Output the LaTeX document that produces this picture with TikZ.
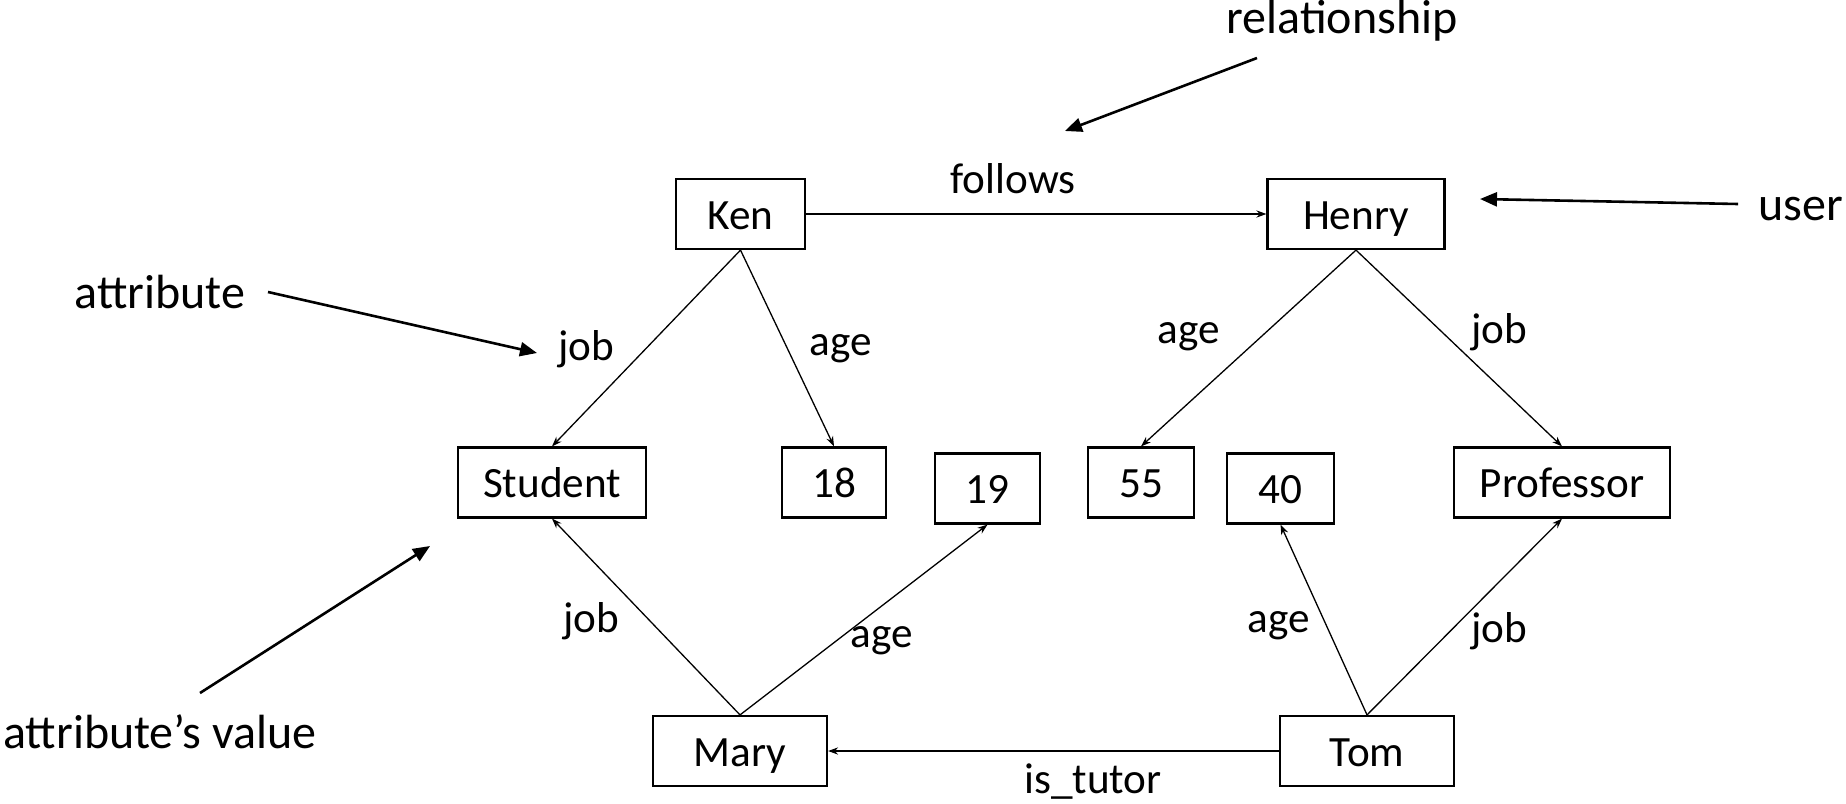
\documentclass[tikz,border=0pt]{standalone}
\usepackage{fontspec}
\setmainfont{Carlito}
\usetikzlibrary{arrows.meta}
\begin{document}
\begin{tikzpicture}[x=0.5pt,y=-0.5pt,
  entity/.style={draw,line width=1.1pt,minimum height=35pt,inner sep=0pt,
    text height=15pt,text depth=0pt,font=\fontsize{21.6}{26}\selectfont},
  edge/.style={line width=0.65pt,-{Stealth[length=5pt,width=3.6pt]}},
  elabel/.style={anchor=base,inner sep=0pt,font=\fontsize{21.6}{26}\selectfont},
  note/.style={anchor=base,inner sep=0pt,font=\fontsize{24}{29}\selectfont},
  pointer/.style={line width=1.3pt,-{Triangle[length=8.5pt,width=7pt]}}]
\useasboundingbox (0,0) rectangle (1846,803);

% users
\node[entity,minimum width=64.5pt] (ken)   at (740.5,214) {Ken};
\node[entity,minimum width=88.5pt] (henry) at (1356,214)  {Henry};
\node[entity,minimum width=87pt]   (mary)  at (740,751)   {Mary};
\node[entity,minimum width=87pt]   (tom)   at (1367,751)  {Tom};

% attribute values
\node[entity,minimum width=94pt]  (student) at (552,482.5)  {Student};
\node[entity,minimum width=52pt]  (v18)     at (834,482.5)  {18};
\node[entity,minimum width=52.5pt](v19)     at (987.5,488.5){19};
\node[entity,minimum width=53pt]  (v55)     at (1141,482.5) {55};
\node[entity,minimum width=53.5pt](v40)     at (1280.5,488.5){40};
\node[entity,minimum width=108pt] (prof)    at (1562,482.5) {Professor};

% relationships
\draw[edge] (ken.east) -- (henry.west);
\draw[edge] (tom.west) -- (mary.east);

% attributes
\draw[edge] (ken.south) -- (student.north);
\draw[edge] (ken.south) -- (v18.north);
\draw[edge] (henry.south) -- (v55.north);
\draw[edge] (henry.south) -- (prof.north);
\draw[edge] (mary.north) -- (student.south);
\draw[edge] (mary.north) -- (v19.south);
\draw[edge] (tom.north) -- (v40.south);
\draw[edge] (tom.north) -- (prof.south);

% edge labels
\node[elabel] (lfollows) at (1013,193) {follows};
\node[elabel] (ltutor)   at (1093,793) {is\_tutor};
\node[elabel] (lkj)  at (586,360)  {job};
\node[elabel] (lka)  at (841,355)  {age};
\node[elabel] (lha)  at (1189,343) {age};
\node[elabel] (lhj)  at (1499,343) {job};
\node[elabel] (lmj)  at (591,632)  {job};
\node[elabel] (lma)  at (882,647)  {age};
\node[elabel] (lta)  at (1279,632) {age};
\node[elabel] (ltj)  at (1499,642) {job};

% explanatory notes
\node[note] (nrel)  at (1342,33)  {relationship};
\node[note] (nuser) at (1801,220) {user};
\node[note] (natt)  at (160,308)  {attribute};
\node[note] (nval)  at (160,748)  {attribute’s value};

\coordinate (relA) at (1257,58);  \coordinate (relB) at (1065,131);
\coordinate (useA) at (1738,204); \coordinate (useB) at (1480,199);
\coordinate (attA) at (268,292);  \coordinate (attB) at (537,353);
\coordinate (valA) at (200,693);  \coordinate (valB) at (430,546);
\draw[pointer] (relA) -- (relB);
\draw[pointer] (useA) -- (useB);
\draw[pointer] (attA) -- (attB);
\draw[pointer] (valA) -- (valB);
\end{tikzpicture}
\end{document}
